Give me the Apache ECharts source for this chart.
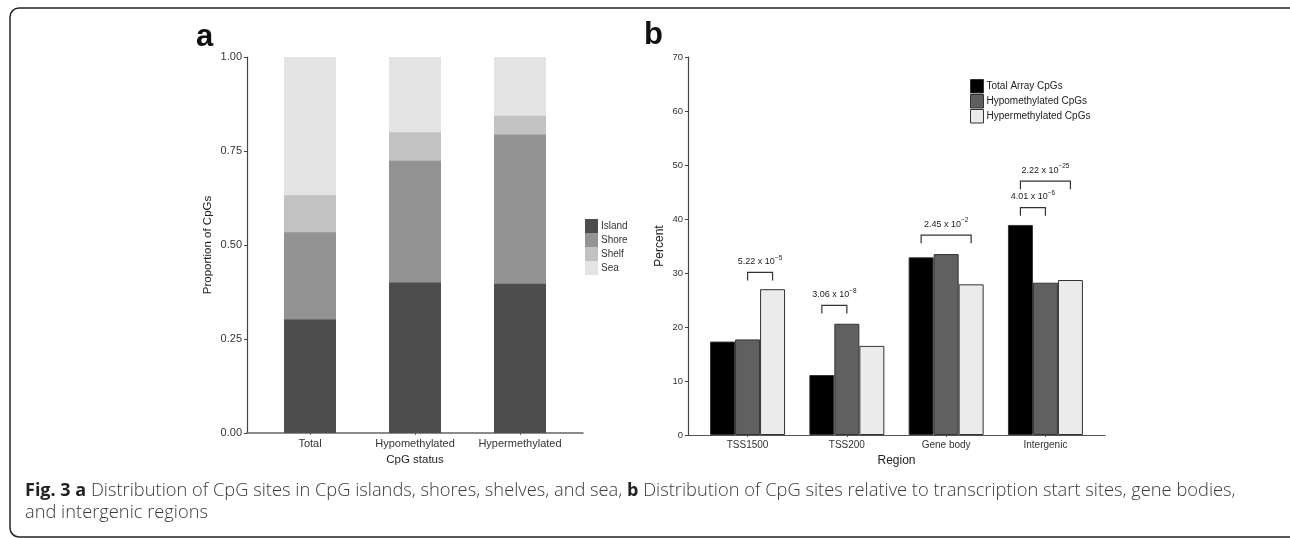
<!DOCTYPE html>
<html lang="en">
<head>
    <meta charset="UTF-8">
    <title>Fig. 3 CpG distribution</title>
    <script src="https://cdn.jsdelivr.net/npm/echarts@6.0.0/dist/echarts.min.js"></script>
</head>
<body style="margin: 0; background: #fff;">
<div id="container" style="width: 1290px; height: 538px;"></div>
<script type="text/javascript">

    // panel a - proportion of CpGs by CpG status
    const catA = ['Total', 'Hypomethylated', 'Hypermethylated'];
    const islandA = [0.302, 0.400, 0.397];
    const shoreA = [0.232, 0.324, 0.397];
    const shelfA = [0.098, 0.076, 0.050];
    const seaA = [0.368, 0.200, 0.156];
    const ticksA = [0, 0.25, 0.5, 0.75, 1];

    // panel b - percent of CpGs by region
    const catB = ['TSS1500', 'TSS200', 'Gene body', 'Intergenic'];
    const totalB = [17.3, 11.1, 32.9, 38.9];
    const hypoB = [17.7, 20.6, 33.5, 28.2];
    const hyperB = [27.0, 16.5, 27.9, 28.7];
    const ticksB = [0, 10, 20, 30, 40, 50, 60, 70];

    // p-value brackets: region index, from bar, to bar, height (percent)
    const pRegion = [0, 1, 2, 3, 3];
    const pFrom = [1, 0, 0, 0, 0];
    const pTo = [2, 1, 2, 1, 2];
    const pHeight = [30.1, 24.0, 37.0, 42.1, 47.0];
    const pMantissa = ['5.22', '3.06', '2.45', '4.01', '2.22'];
    const pExponent = ['\u22125', '\u22128', '\u22122', '\u22126', '\u221225'];

    const FONT = "'Liberation Sans', Arial, sans-serif";
    const AXIS = '#444';
    const BAR_B = 25;

    let dom = document.getElementById("container");
    let myChart = echarts.init(dom, null, {renderer: 'canvas'});

    // stacking is done by hand: each layer is drawn at its cumulative height,
    // top layer first, so the lower layers paint over it
    const layersA = [islandA, shoreA, shelfA, seaA];
    const namesA = ['Island', 'Shore', 'Shelf', 'Sea'];
    const colorsA = ['#4d4d4d', '#939393', '#c2c2c2', '#e3e3e3'];

    function cumulative(layer) {
        return catA.map((c, i) => {
            let s = 0;
            for (let k = 0; k <= layer; k++) s += layersA[k][i];
            return Math.min(s, 1);
        });
    }

    function stackSeries(layer) {
        return {
            type: 'bar', name: namesA[layer],
            xAxisIndex: 0, yAxisIndex: 0,
            barWidth: 52, barGap: '-100%',
            data: cumulative(layer).map((v, i) => [i + 1, v]),
            itemStyle: {color: colorsA[layer]},
            emphasis: {disabled: true}
        };
    }

    function dodgeSeries(name, vals, color) {
        return {
            type: 'bar', name: name,
            xAxisIndex: 1, yAxisIndex: 1,
            barWidth: BAR_B, barGap: '0%',
            data: vals.map((v, i) => [i + 1, v]),
            itemStyle: {color: color, borderColor: '#333', borderWidth: 1},
            emphasis: {disabled: true}
        };
    }

    let option = {
        animation: false,
        textStyle: {fontFamily: FONT},
        grid: [
            {left: 247, top: 57, width: 336, height: 376},
            {left: 688, top: 57, width: 417, height: 378}
        ],
        xAxis: [{
            type: 'value', gridIndex: 0, min: 0.4, max: 3.6,
            name: 'CpG status', nameLocation: 'middle', nameGap: 20,
            nameTextStyle: {fontSize: 11.5, color: '#222', fontFamily: FONT},
            axisLine: {show: true, lineStyle: {color: '#666', width: 1.5}},
            axisTick: {show: true, length: 2, customValues: [1, 2, 3], lineStyle: {color: '#666'}},
            axisLabel: {
                customValues: [1, 2, 3], margin: 5, fontSize: 11, color: '#333', fontFamily: FONT,
                formatter: v => catA[Math.round(v) - 1] || ''
            },
            splitLine: {show: false}
        }, {
            type: 'value', gridIndex: 1, min: 0.4, max: 4.6,
            name: 'Region', nameLocation: 'middle', nameGap: 18,
            nameTextStyle: {fontSize: 12, color: '#222', fontFamily: FONT},
            axisLine: {show: true, lineStyle: {color: '#555', width: 1.2}},
            axisTick: {show: true, length: 2, customValues: [1, 2, 3, 4], lineStyle: {color: '#555'}},
            axisLabel: {
                customValues: [1, 2, 3, 4], margin: 5, fontSize: 10, color: '#333', fontFamily: FONT,
                formatter: v => catB[Math.round(v) - 1] || ''
            },
            splitLine: {show: false}
        }],
        yAxis: [{
            type: 'value', gridIndex: 0, min: 0, max: 1, interval: 0.25,
            name: 'Proportion of CpGs', nameLocation: 'middle', nameGap: 33,
            nameTextStyle: {fontSize: 11.5, color: '#222', fontFamily: FONT},
            axisLine: {show: true, lineStyle: {color: AXIS, width: 1.2}},
            axisTick: {show: true, length: 3, lineStyle: {color: AXIS}},
            axisLabel: {
                margin: 5, fontSize: 11, color: '#333', fontFamily: FONT,
                customValues: ticksA,
                formatter: v => v.toFixed(2)
            },
            splitLine: {show: false}
        }, {
            type: 'value', gridIndex: 1, min: 0, max: 70, interval: 10,
            name: 'Percent', nameLocation: 'middle', nameGap: 22,
            nameTextStyle: {fontSize: 12, color: '#222', fontFamily: FONT},
            axisLine: {show: true, lineStyle: {color: AXIS, width: 1.2}},
            axisTick: {show: true, length: 3, lineStyle: {color: AXIS}},
            axisLabel: {
                margin: 5, fontSize: 9.5, color: '#333', fontFamily: FONT,
                customValues: ticksB
            },
            splitLine: {show: false}
        }],
        legend: [{
            data: namesA,
            orient: 'vertical', left: 585, top: 219, padding: 0,
            icon: 'rect', itemWidth: 13, itemHeight: 14, itemGap: 0,
            textStyle: {fontSize: 10, color: '#333', fontFamily: FONT, padding: [0, 0, 0, -2]},
            selectedMode: false
        }, {
            data: ['Total Array CpGs', 'Hypomethylated CpGs', 'Hypermethylated CpGs'],
            orient: 'vertical', left: 970, top: 79, padding: 0,
            icon: 'rect', itemWidth: 13, itemHeight: 13.5, itemGap: 0.5,
            itemStyle: {borderWidth: 1, borderColor: '#333'},
            textStyle: {fontSize: 10, lineHeight: 12, color: '#222', fontFamily: FONT, padding: [0, 0, 0, -2]},
            selectedMode: false
        }],
        graphic: [
            {
                type: 'rect', silent: true,
                shape: {x: 10, y: 8, width: 1300, height: 529, r: 9},
                style: {fill: 'none', stroke: '#222', lineWidth: 1.5}
            },
            {
                type: 'text', left: 196, top: 22,
                style: {text: 'a', font: 'bold 31px ' + FONT, fill: '#111'}
            },
            {
                type: 'text', left: 644, top: 20,
                style: {text: 'b', font: 'bold 31px ' + FONT, fill: '#111'}
            },
            {
                type: 'text', left: 25, top: 480,
                style: {
                    text: '{b|Fig. 3 a} Distribution of CpG sites in CpG islands, shores, shelves, and sea, {b|b} Distribution of CpG sites relative to transcription start sites, gene bodies,\nand intergenic regions',
                    fontFamily: "'Open Sans', sans-serif", fontSize: 18.3, fontWeight: 300, lineHeight: 22, fill: '#3a3a3a',
                    rich: {
                        b: {fontFamily: "'Open Sans', sans-serif", fontSize: 18, lineHeight: 22, fontWeight: 'bold', fill: '#222'}
                    }
                }
            }
        ],
        series: [
            stackSeries(3),
            stackSeries(2),
            stackSeries(1),
            stackSeries(0),
            dodgeSeries('Total Array CpGs', totalB, '#000000'),
            dodgeSeries('Hypomethylated CpGs', hypoB, '#606060'),
            dodgeSeries('Hypermethylated CpGs', hyperB, '#ebebeb'),
            {
                type: 'custom', name: 'p-values',
                xAxisIndex: 1, yAxisIndex: 1,
                clip: false, silent: true,
                data: pRegion.map((g, i) => [g + 1, pHeight[i], pFrom[i], pTo[i], i]),
                encode: {x: 0, y: 1},
                renderItem: function (params, api) {
                    const top = api.coord([api.value(0), api.value(1)]);
                    const x1 = top[0] + (api.value(2) - 1) * BAR_B;
                    const x2 = top[0] + (api.value(3) - 1) * BAR_B;
                    const y = top[1];
                    const i = api.value(4);
                    return {
                        type: 'group',
                        children: [{
                            type: 'polyline',
                            shape: {points: [[x1, y + 8], [x1, y], [x2, y], [x2, y + 8]]},
                            style: {stroke: '#333', lineWidth: 1.2, fill: 'none'}
                        }, {
                            type: 'text',
                            x: (x1 + x2) / 2, y: y - 4,
                            style: {
                                text: pMantissa[i] + ' x 10{s|' + pExponent[i] + '}',
                                fontFamily: FONT, fontSize: 9, fill: '#222',
                                align: 'center', verticalAlign: 'bottom',
                                rich: {s: {fontFamily: FONT, fontSize: 6.5, fill: '#222', padding: [0, 0, 7, 0]}}
                            }
                        }]
                    };
                }
            }
        ]
    };
    myChart.setOption(option, true);

</script>
</body>
</html>
